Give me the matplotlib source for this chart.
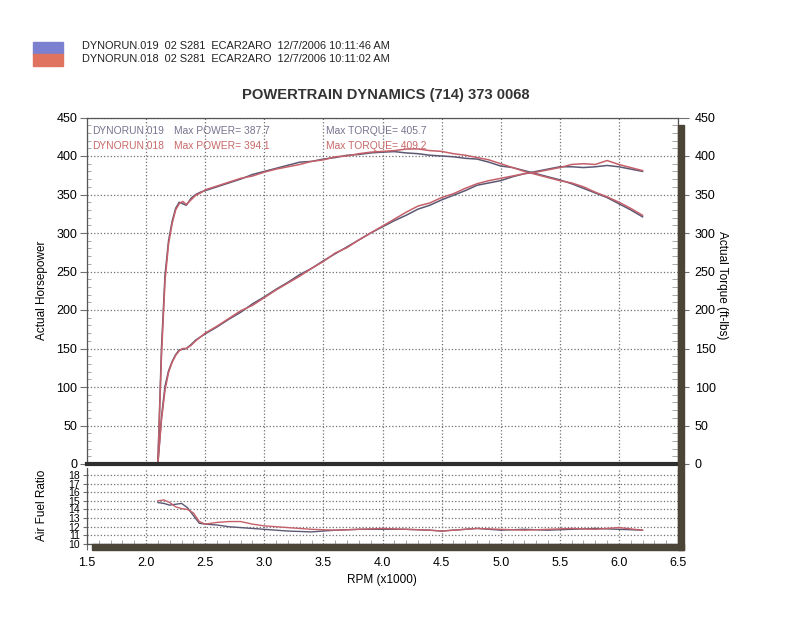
import numpy as np
import matplotlib.pyplot as plt
from matplotlib import font_manager
from matplotlib.patches import Rectangle
from matplotlib.ticker import MultipleLocator

plt.rcParams['font.family'] = ['Liberation Sans', 'DejaVu Sans']

# rpm (x1000) for torque / power
rpm = [2.10, 2.13, 2.16, 2.19, 2.22, 2.25, 2.28, 2.31, 2.34, 2.38, 2.42, 2.46, 2.5,
       2.6, 2.7, 2.8, 2.9, 3.0, 3.1, 3.2, 3.3, 3.4, 3.5, 3.6, 3.7, 3.8, 3.9, 4.0,
       4.1, 4.2, 4.3, 4.4, 4.5, 4.6, 4.7, 4.8, 4.9, 5.0, 5.1, 5.2, 5.3, 5.4, 5.5,
       5.6, 5.7, 5.8, 5.9, 6.0, 6.1, 6.2]

torque_019 = [3, 150, 245, 290, 315, 332, 340, 338, 336, 345, 350, 353, 355,
              360, 365, 370, 376, 380, 384, 388, 392, 393, 396, 398, 401, 402, 404, 405,
              405.7, 404, 403, 401, 400, 399, 397, 396, 392, 387, 385, 381, 377, 373, 369,
              364, 358, 352, 346, 338, 330, 321]
torque_018 = [2, 140, 238, 286, 312, 330, 338, 341, 337, 343, 349, 352, 356,
              361, 366, 371, 374, 379, 383, 386, 389, 393, 395, 399, 400, 403, 405, 406,
              407, 409, 409.2, 407, 406, 403, 401, 398, 395, 390, 385, 380, 376, 372, 368,
              365, 360, 353, 347, 340, 332, 323]

power_019 = [1, 61, 101, 121, 133, 142, 148, 149, 150, 155, 161, 165, 169,
             178, 188, 197, 208, 217, 227, 236, 246, 254, 264, 273, 282, 291, 300, 308,
             316, 323, 331, 336, 343, 349, 355, 362, 365, 368, 373, 377, 380, 383, 386,
             386, 385, 386, 387.7, 386, 383, 380]
power_018 = [1, 57, 96, 119, 132, 141, 147, 150, 150, 154, 160, 165, 170,
             179, 189, 199, 206, 216, 226, 235, 244, 254, 263, 274, 281, 291, 300, 309,
             318, 327, 335, 339, 346, 351, 358, 364, 368, 371, 374, 377, 379, 382, 385,
             389, 390, 389, 394.1, 389, 385, 381]

# air fuel ratio
afr_rpm = [2.10, 2.15, 2.2, 2.25, 2.3, 2.35, 2.4, 2.45, 2.5, 2.6, 2.7, 2.8, 2.9, 3.0,
           3.2, 3.4, 3.6, 3.8, 4.0, 4.2, 4.4, 4.5, 4.6, 4.8, 5.0, 5.2, 5.4, 5.6, 5.8,
           6.0, 6.2]
afr_019 = [14.8, 14.7, 14.5, 14.6, 14.7, 14.2, 13.3, 12.4, 12.3, 12.2, 12.0, 11.9, 11.8,
           11.7, 11.5, 11.4, 11.6, 11.7, 11.7, 11.7, 11.6, 11.5, 11.6, 11.8, 11.6, 11.7,
           11.6, 11.7, 11.8, 11.7, 11.6]
afr_018 = [15.0, 15.1, 14.8, 14.3, 14.1, 14.0, 13.6, 12.6, 12.3, 12.5, 12.6, 12.6, 12.3,
           12.1, 11.9, 11.7, 11.6, 11.7, 11.8, 11.7, 11.6, 11.5, 11.6, 11.8, 11.7, 11.6,
           11.7, 11.8, 11.7, 11.9, 11.6]

header_019 = "DYNORUN.019  02 S281  ECAR2ARO  12/7/2006 10:11:46 AM"
header_018 = "DYNORUN.018  02 S281  ECAR2ARO  12/7/2006 10:11:02 AM"

c019 = '#5b5873'
c018 = '#c5606a'
txt019 = '#76748e'
txt018 = '#c86868'
shadow = '#4a4536'
gridc = '#707070'

# narrow face for the header if it is there
names = {f.name for f in font_manager.fontManager.ttflist}
if 'Liberation Sans Narrow' in names:
    head_font, head_size = 'Liberation Sans Narrow', 9.2
else:
    head_font, head_size = 'Liberation Sans', 7.9

W, H = 800, 627
fig = plt.figure(figsize=(8, 6.27), dpi=100)
fig.patch.set_facecolor('white')


def fx(px):
    return px / W


def fy(py):
    return 1 - py / H


# main panel
ax = fig.add_axes([fx(87), fy(464), fx(678 - 87), fy(117.5) - fy(464)])
ax.plot(rpm, torque_019, color=c019, lw=1.1)
ax.plot(rpm, torque_018, color=c018, lw=1.1)
ax.plot(rpm, power_019, color=c019, lw=1.1)
ax.plot(rpm, power_018, color=c018, lw=1.1)
ax.set_xlim(1.5, 6.5)
ax.set_ylim(0, 450)
ax.xaxis.set_major_locator(MultipleLocator(0.5))
ax.yaxis.set_major_locator(MultipleLocator(50))
ax.yaxis.set_minor_locator(MultipleLocator(10))
ax.grid(True, which='major', linestyle=':', color=gridc, lw=0.9)
ax.tick_params(axis='x', labelbottom=False, length=0)
ax.tick_params(axis='y', which='major', length=5, color=gridc, labelsize=9, pad=2)
ax.tick_params(axis='y', which='minor', length=3, direction='in', color='#999999')
ax.set_ylabel("Actual Horsepower", fontsize=8.5)
ax.yaxis.set_label_coords(fx(48), fy(290), transform=fig.transFigure)
for s in ['top', 'left', 'right']:
    ax.spines[s].set_color('#555555')
    ax.spines[s].set_linewidth(0.9)
ax.spines['bottom'].set_color('#2e2e2e')
ax.spines['bottom'].set_linewidth(3)

ax2 = ax.twinx()
ax2.set_ylim(0, 450)
ax2.yaxis.set_major_locator(MultipleLocator(50))
ax2.yaxis.set_minor_locator(MultipleLocator(10))
ax2.tick_params(axis='y', which='major', length=8, color=gridc, labelsize=9, pad=4)
ax2.tick_params(axis='y', which='minor', length=4, direction='in', color='#999999')
ax2.set_ylabel("Actual Torque (ft-lbs)", fontsize=8.5, rotation=270, va='center')
ax2.yaxis.set_label_coords(fx(722), fy(285), transform=fig.transFigure)
for s in ax2.spines.values():
    s.set_visible(False)

# run labels inside panel
fs_in = 7.4
ax.text(1.545, 433, "DYNORUN.019", color=txt019, fontsize=fs_in, va='center')
ax.text(2.236, 433, "Max POWER= 387.7", color=txt019, fontsize=fs_in, va='center')
ax.text(3.52, 433, "Max TORQUE= 405.7", color=txt019, fontsize=fs_in, va='center')
ax.text(1.545, 413, "DYNORUN.018", color=txt018, fontsize=fs_in, va='center')
ax.text(2.236, 413, "Max POWER= 394.1", color=txt018, fontsize=fs_in, va='center')
ax.text(3.52, 413, "Max TORQUE= 409.2", color=txt018, fontsize=fs_in, va='center')

# air fuel ratio panel
bx = fig.add_axes([fx(87), fy(544), fx(678 - 87), fy(468) - fy(544)])
bx.plot(afr_rpm, afr_019, color=c019, lw=1.0)
bx.plot(afr_rpm, afr_018, color=c018, lw=1.0)
bx.set_xlim(1.5, 6.5)
bx.set_ylim(10, 18.8)
bx.xaxis.set_major_locator(MultipleLocator(0.5))
bx.xaxis.set_minor_locator(MultipleLocator(0.1))
bx.yaxis.set_major_locator(MultipleLocator(1))
bx.grid(True, which='major', linestyle=':', color=gridc, lw=0.9)
bx.xaxis.set_major_formatter(lambda v, p: f"{v:.1f}")
bx.tick_params(axis='x', which='major', length=4, color=gridc, labelsize=9, pad=5)
bx.tick_params(axis='x', which='minor', length=3, direction='in', color='#999999')
bx.tick_params(axis='y', length=3, color=gridc, labelsize=7.5, pad=2)
bx.set_ylabel("Air Fuel Ratio", fontsize=8.5)
bx.yaxis.set_label_coords(fx(48), fy(505), transform=fig.transFigure)
bx.set_xlabel("RPM (x1000)", fontsize=8.5)
bx.xaxis.set_label_coords(fx(382), fy(574), transform=fig.transFigure)
for s in bx.spines.values():
    s.set_color('#555555')
    s.set_linewidth(0.9)
bx.spines['top'].set_visible(False)

# shadow bars
fig.patches.append(Rectangle((fx(678), fy(550)), fx(6), fy(125) - fy(550),
                             transform=fig.transFigure, color=shadow, zorder=0))
fig.patches.append(Rectangle((fx(92), fy(550)), fx(592), fy(544) - fy(550),
                             transform=fig.transFigure, color=shadow, zorder=0))

# header swatch and run lines
fig.patches.append(Rectangle((fx(33), fy(54)), fx(30), fy(42) - fy(54),
                             transform=fig.transFigure, color='#7b80d0'))
fig.patches.append(Rectangle((fx(33), fy(66)), fx(30), fy(54) - fy(66),
                             transform=fig.transFigure, color='#e07360'))
fig.text(fx(82), fy(46), header_019, fontsize=head_size, family=head_font,
         va='center', color='#222222')
fig.text(fx(82), fy(59), header_018, fontsize=head_size, family=head_font,
         va='center', color='#222222')

fig.text(fx(386), fy(95), "POWERTRAIN DYNAMICS (714) 373 0068", fontsize=10.6,
         fontweight='bold', ha='center', va='center', color='#333333')

fig.savefig("out.png", dpi=100)
